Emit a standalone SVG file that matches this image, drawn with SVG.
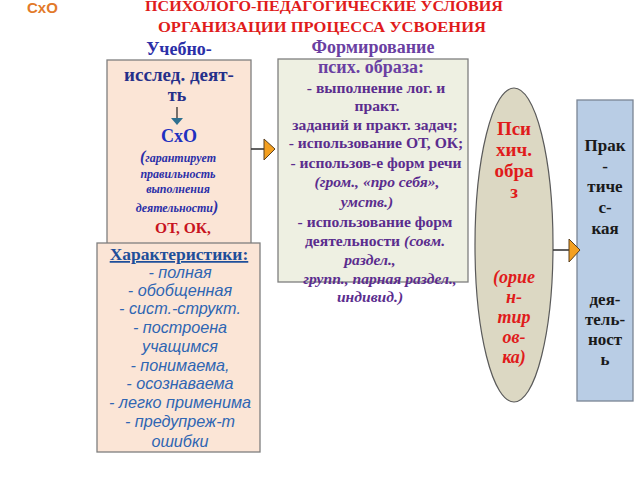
<svg xmlns="http://www.w3.org/2000/svg" width="640" height="480" viewBox="0 0 640 480">
<defs>
<style>
.ser{font-family:"Liberation Serif","Times New Roman",serif;font-weight:bold;text-anchor:middle}
.it{font-style:italic}
.box{stroke:#7f7f7f;stroke-width:1.3}
.c1{fill:#2b2fa8}
.p{fill:#5b2d8e}
.ch{font-family:"Liberation Sans",Arial,sans-serif;font-style:italic;font-size:16.2px;fill:#2f66b3;text-anchor:middle}
.red{fill:#e01b1b}
.pr{fill:#1a1a1a;font-size:17px}
.con{stroke:#3a3a3a;stroke-width:1.6;fill:none}
.head{fill:#f4a020;stroke:#5a4020;stroke-width:1}
</style>
</defs>
<rect width="640" height="480" fill="#ffffff"/>
<g id="title">
<text x="27" y="13" font-family="Liberation Sans,Arial,sans-serif" font-weight="bold" font-size="15" fill="#e27a2a">СхО</text>
<text class="ser red" x="324" y="11" font-size="15.5" textLength="358" lengthAdjust="spacingAndGlyphs">ПСИХОЛОГО-ПЕДАГОГИЧЕСКИЕ  УСЛОВИЯ</text>
<text class="ser red" x="322" y="32" font-size="15.5" textLength="328" lengthAdjust="spacingAndGlyphs">ОРГАНИЗАЦИИ  ПРОЦЕССА  УСВОЕНИЯ</text>
</g>
<g id="uchebno">
<rect class="box" x="107" y="60" width="144" height="190" fill="#fbe5d6"/>
<text class="ser c1" x="179" y="55" font-size="18" fill="#1f22b8">Учебно-</text>
<text class="ser" x="179" y="81" font-size="19" fill="#26308a">исслед. деят-</text>
<text class="ser" x="177" y="101" font-size="18" fill="#26308a">ть</text>
<line x1="177" y1="107" x2="177" y2="119" stroke="#303030" stroke-width="1.3"/>
<polygon points="171,118 183,118 177,125" fill="#2e7090"/>
<text class="ser" x="179" y="142" font-size="18" fill="#2030c0">СхО</text>
<text class="ser it" x="178" y="162" font-size="12" fill="#2b2fa8"><tspan font-size="16">(</tspan>гарантирует</text>
<text class="ser it" x="178" y="178" font-size="12" fill="#2b2fa8">правильность</text>
<text class="ser it" x="178" y="193" font-size="12" fill="#2b2fa8">выполнения</text>
<text class="ser it" x="177" y="212" font-size="12" fill="#2b2fa8">деятельности<tspan font-size="16">)</tspan></text>
<text class="ser" x="183" y="233" font-size="15.5" fill="#c8141e">ОТ, ОК,</text>
</g>
<g id="harakteristiki">
<rect class="box" x="97" y="243" width="163" height="209" fill="#fbe5d6"/>
<text class="ser" x="179" y="260" font-size="17.5" fill="#1f4f9a" text-decoration="underline">Характеристики:</text>
<text class="ch" x="180" y="278">- полная</text>
<text class="ch" x="180" y="296">- обобщенная</text>
<text class="ch" x="180" y="314">- сист.-структ.</text>
<text class="ch" x="180" y="333">- построена</text>
<text class="ch" x="180" y="352">учащимся</text>
<text class="ch" x="180" y="371">- понимаема,</text>
<text class="ch" x="180" y="389">- осознаваема</text>
<text class="ch" x="180" y="408">- легко применима</text>
<text class="ch" x="180" y="427">- предупреж-т</text>
<text class="ch" x="180" y="447">ошибки</text>
</g>
<g id="formirovanie">
<rect class="box" x="278" y="59" width="190" height="223" fill="#eef0e2"/>
<text class="ser" x="373" y="53" font-size="18" fill="#6a3fa2">Формирование</text>
<text class="ser" x="371" y="73" font-size="18" fill="#6a3fa2">псих. образа:</text>
<g class="ser p" font-size="15.6">
<text x="376" y="93">- выполнение лог. и</text>
<text x="377" y="111">практ.</text>
<text x="375" y="130">заданий и практ. задач;</text>
<text x="376" y="148">- использование ОТ, ОК;</text>
<text x="376" y="168">- использов-е форм речи</text>
<text class="it" x="377" y="187">(гром., «про себя»,</text>
<text class="it" x="367" y="207">умств.)</text>
<text x="375" y="227">- использование форм</text>
<text x="375" y="246">деятельности <tspan class="it">(совм.</tspan></text>
<text class="it" x="370" y="265">раздел.,</text>
<text class="it" x="380" y="284">групп., парная раздел.,</text>
<text class="it" x="370" y="302">индивид.)</text>
</g>
</g>
<g id="obraz">
<ellipse cx="514" cy="245" rx="39" ry="157" fill="#dcd8c3" stroke="#5a5a5a" stroke-width="1.2"/>
<g class="ser red" font-size="19">
<text x="514" y="135">Пси</text>
<text x="514" y="156">хич.</text>
<text x="514" y="177">обра</text>
<text x="514" y="198">з</text>
</g>
<g class="ser red it" font-size="18">
<text x="514" y="283">(орие</text>
<text x="514" y="303">н-</text>
<text x="514" y="323">тир</text>
<text x="514" y="343">ов-</text>
<text x="514" y="363">ка)</text>
</g>
</g>
<g id="praktika">
<rect x="577" y="100" width="56" height="301" fill="#b9cde5" stroke="#7a8594" stroke-width="1.3"/>
<g class="ser pr">
<text x="605" y="151">Прак</text>
<text x="605" y="172">-</text>
<text x="605" y="192">тиче</text>
<text x="605" y="213">с-</text>
<text x="605" y="234">кая</text>
<text x="605" y="305">дея-</text>
<text x="605" y="325">тель-</text>
<text x="605" y="345">ност</text>
<text x="605" y="365">ь</text>
</g>
</g>
<g id="connectors">
<line class="con" x1="251" y1="149" x2="265" y2="149"/>
<polygon class="head" points="264,139 264,160 275,149"/>
<line class="con" x1="553" y1="250" x2="570" y2="250"/>
<polygon class="head" points="569,239 569,262 580,250"/>
</g>
</svg>
